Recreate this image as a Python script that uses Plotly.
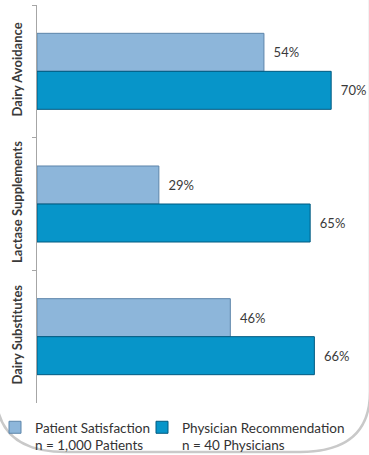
import plotly.graph_objects as go

categories = ["Dairy Avoidance", "Lactase Supplements", "Dairy Substitutes"]
patient_satisfaction = [54, 29, 46]
physician_recommendation = [70, 65, 66]
series_names = ["Patient Satisfaction<br>n = 1,000 Patients",
                "Physician Recommendation<br>n = 40 Physicians"]

W, H = 369, 455
L, R, T, B = 37, 0, 5, 52
pw, ph = W - L - R, H - T - B

def px_x(p):
    return (p - L) / pw

def px_y(p):
    return (H - B - p) / ph

fig = go.Figure()
fig.add_trace(go.Bar(
    y=categories, x=patient_satisfaction, orientation="h",
    name=series_names[0], legend="legend",
    marker=dict(color="#8db6da", line=dict(color="#5d85aa", width=1)),
    text=["\u00a0\u00a0" + f"{v}%" for v in patient_satisfaction],
    textposition="outside", constraintext="none", cliponaxis=False,
    textfont=dict(family="Lato", size=13, color="#3a3a3a"),
))
fig.add_trace(go.Bar(
    y=categories, x=physician_recommendation, orientation="h",
    name=series_names[1], legend="legend2",
    marker=dict(color="#0795c9", line=dict(color="#005a80", width=1)),
    text=["\u00a0\u00a0" + f"{v}%" for v in physician_recommendation],
    textposition="outside", constraintext="none", cliponaxis=False,
    textfont=dict(family="Lato", size=13, color="#3a3a3a"),
))

# rounded frame at the bottom of the panel
x0, x1 = px_x(-4), px_x(370)
yb, ytop = px_y(452), px_y(-10)
rx, ry = 70 / pw, 60 / ph
path = (f"M {x0},{ytop} L {x0},{yb + ry} Q {x0},{yb} {x0 + rx},{yb} "
        f"L {x1 - rx},{yb} Q {x1},{yb} {x1},{yb + ry} L {x1},{ytop}")

legend_common = dict(orientation="h", xref="paper", y=px_y(412), yanchor="top",
                     xanchor="left", font=dict(size=13.5, color="#333333"),
                     valign="top", bgcolor="rgba(0,0,0,0)")

fig.update_layout(
    width=W, height=H,
    margin=dict(l=L, r=R, t=T, b=B, pad=0, autoexpand=False),
    paper_bgcolor="white", plot_bgcolor="white",
    barmode="group", bargap=0.427, bargroupgap=0,
    font=dict(family="Lato", color="#404040"),
    showlegend=True,
    legend=dict(x=px_x(-5), **legend_common),
    legend2=dict(x=px_x(142), **legend_common),
    shapes=[dict(type="path", xref="paper", yref="paper", path=path,
                 line=dict(color="#c9c9c9", width=2.5), layer="below")],
    xaxis=dict(range=[0, 79], showgrid=False, zeroline=False, showticklabels=False,
               showline=False, ticks="", automargin=False),
    yaxis=dict(categoryorder="array", categoryarray=categories, autorange="reversed",
               showgrid=False, zeroline=False, showline=True, linecolor="#a6a6a6",
               linewidth=1, ticks="outside", tickson="boundaries", ticklen=4,
               tickcolor="#a6a6a6", tickangle=-90, automargin=False,
               ticklabelstandoff=9,
               tickfont=dict(family="Lato", size=13, color="#3a3a3a", weight="bold")),
)

fig.write_html("out.html", config={"displayModeBar": False},
               post_script="document.body.style.margin='0';")
